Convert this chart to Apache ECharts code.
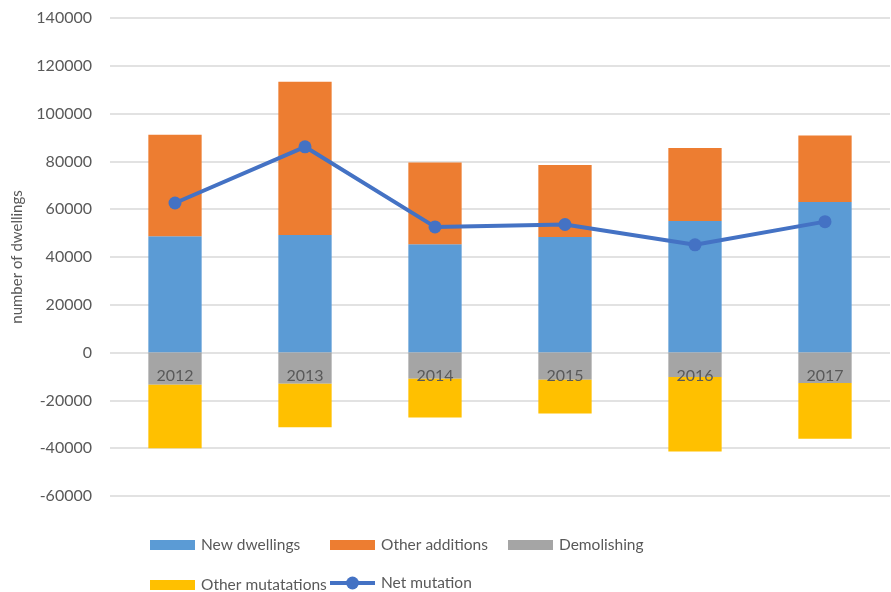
<!DOCTYPE html>
<html>
<head>
<meta charset="utf-8">
<script src="https://cdn.jsdelivr.net/npm/echarts@6/dist/echarts.min.js"></script>
<style>html,body{margin:0;padding:0;background:#fff}#c{width:891px;height:592px}</style>
</head>
<body>
<div id="c"></div>
<script>
const categories = ['2012', '2013', '2014', '2015', '2016', '2017'];
const newDwellings = [48700, 49200, 45300, 48400, 55100, 63000];
const otherAdditions = [42400, 64100, 34200, 30100, 30500, 27800];
const demolishing = [-13400, -13000, -10900, -11400, -10200, -12700];
const otherMutations = [-26600, -18200, -16300, -14100, -31200, -23300];
const netMutation = [62600, 86100, 52600, 53600, 45100, 54800];
const yTicks = { min: -60000, max: 140000, interval: 20000 };

const FONT = 'Lato';
const TXT = '#595959';
const GRID_TOP = 18, GRID_BOTTOM = 96, H = 592;
const plotH = H - GRID_TOP - GRID_BOTTOM;
const zeroOffset = -plotH * (0 - yTicks.min) / (yTicks.max - yTicks.min);

const chart = echarts.init(document.getElementById('c'));
function leg(name, left, top, icon, h) {
  const o = {
    data: [name], left: left, top: top, itemWidth: 45, itemHeight: h || 10, itemGap: 0,
    textStyle: { fontFamily: FONT, fontSize: 15.5, color: TXT, padding: [0, 0, 0, 1] },
    padding: 0, selectedMode: false
  };
  if (icon) o.icon = icon;
  return o;
}
const netLeg = leg('Net mutation', 328, 575, null, 16);
netLeg.lineStyle = { width: 4 };
chart.setOption({
  animation: false,
  grid: { left: 110, right: 1, top: GRID_TOP, bottom: GRID_BOTTOM },
  legend: [
    leg('New dwellings', 150, 537, 'rect'),
    leg('Other additions', 330, 537, 'rect'),
    leg('Demolishing', 508, 537, 'rect'),
    leg('Other mutatations', 150, 577, 'rect'),
    netLeg
  ],
  xAxis: {
    type: 'category', data: categories, z: 10, offset: zeroOffset,
    axisLine: { show: false, onZero: false },
    axisTick: { show: false },
    axisLabel: { fontFamily: FONT, fontSize: 16, color: TXT, margin: 15 }
  },
  yAxis: {
    type: 'value', min: yTicks.min, max: yTicks.max, interval: yTicks.interval,
    name: 'number of dwellings', nameLocation: 'middle', nameGap: 85,
    nameTextStyle: { fontFamily: FONT, fontSize: 15, color: TXT },
    axisLabel: { fontFamily: FONT, fontSize: 16, color: TXT, margin: 18, formatter: v => String(v) },
    splitLine: { lineStyle: { color: '#d9d9d9', width: 1.5 } },
    axisLine: { show: false }, axisTick: { show: false }
  },
  series: [
    { name: 'New dwellings', type: 'bar', stack: 't', data: newDwellings, barWidth: '41%', itemStyle: { color: '#5B9BD5' } },
    { name: 'Other additions', type: 'bar', stack: 't', data: otherAdditions, itemStyle: { color: '#ED7D31' } },
    { name: 'Demolishing', type: 'bar', stack: 't', data: demolishing, itemStyle: { color: '#A5A5A5' } },
    { name: 'Other mutatations', type: 'bar', stack: 't', data: otherMutations, itemStyle: { color: '#FFC000' } },
    { name: 'Net mutation', type: 'line', data: netMutation, symbol: 'circle', symbolSize: 13, z: 5,
      lineStyle: { color: '#4472C4', width: 4 }, itemStyle: { color: '#4472C4' } }
  ]
});
</script>
</body>
</html>
